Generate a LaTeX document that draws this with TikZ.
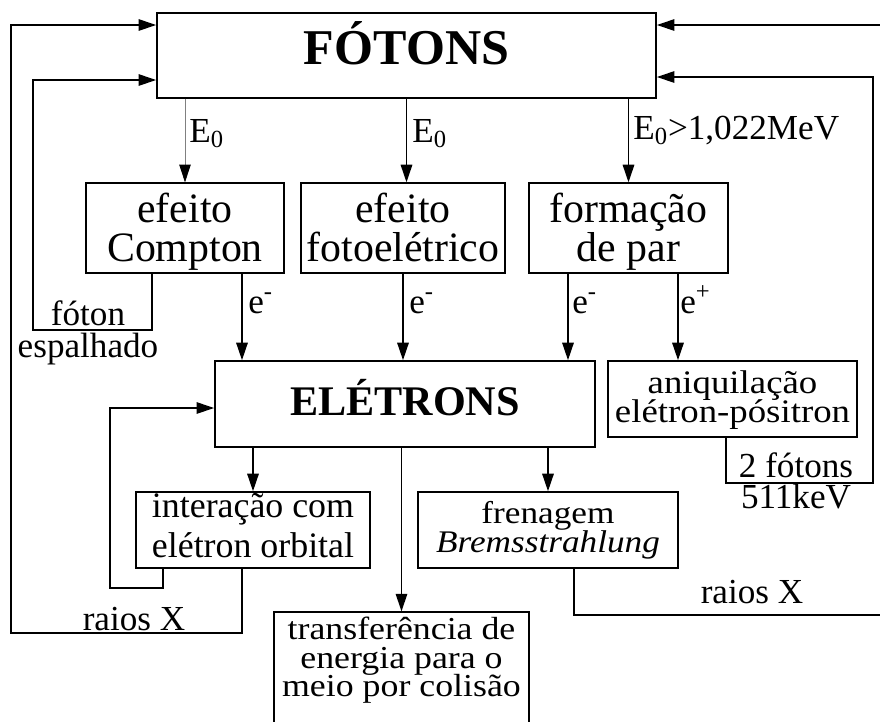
\documentclass[tikz,border=0pt]{standalone}
\usepackage{fontspec}
\setmainfont{Liberation Serif}
\newfontfamily\largafonte{Liberation Serif}[FakeStretch=1.12]
\usetikzlibrary{arrows.meta,positioning}
\lineskiplimit=-20pt

\tikzset{
  caixa/.style={draw, line width=1pt, inner sep=0pt, align=center},
  rotulo/.style={inner sep=0pt, font=\fontsize{20}{18}\selectfont},
  seta/.style={line width=1pt, -{Triangle[length=10pt,width=6.5pt]}},
}

\begin{document}
\begin{tikzpicture}
\useasboundingbox (0,0) rectangle (17.6,-14.42);
% caixas
\node[caixa, minimum width=9.98cm, text height=29.5pt, text depth=18.7pt, font=\fontsize{28.5}{28.5}\selectfont\bfseries] (fotons) at (8.13,-1.11) {FÓTONS};
\node[caixa, minimum width=3.96cm, text height=44.8pt, text depth=6.2pt, font=\fontsize{23.8}{22.7}\selectfont] (compton) at (3.70,-4.56) {efeito\\Compton};
\node[caixa, minimum width=4.08cm, text height=44.8pt, text depth=6.2pt, font=\fontsize{23.8}{22.7}\selectfont] (fotoel) at (8.06,-4.56) {efeito\\fotoelétrico};
\node[caixa, minimum width=3.98cm, text height=44.8pt, text depth=6.2pt, font=\fontsize{23.8}{22.7}\selectfont] (par) at (12.57,-4.56) {formação\\de par};
\node[caixa, minimum width=7.60cm, text height=31.2pt, text depth=17.6pt, font=\fontsize{24}{24}\selectfont\bfseries] (eletrons) at (8.10,-8.08) {ELÉTRONS};
\node[caixa, minimum width=4.98cm, text height=35.2pt, text depth=7.9pt, font=\largafonte\fontsize{18.7}{17}\selectfont] (aniq) at (14.65,-7.98) {aniquilação\\elétron-pósitron};
\node[caixa, minimum width=4.68cm, text height=37.4pt, text depth=5.7pt, font=\fontsize{20.4}{23}\selectfont] (interacao) at (5.06,-10.60) {interação com\\elétron orbital};
\node[caixa, minimum width=5.20cm, text height=34.6pt, text depth=8.5pt, font=\largafonte\fontsize{17.9}{17}\selectfont] (frenagem) at (10.96,-10.60) {frenagem\\\textit{Bremsstrahlung}};
\node[caixa, minimum width=5.10cm, text height=48.2pt, text depth=19.8pt, font=\largafonte\fontsize{18.2}{16.3}\selectfont] (transf) at (8.03,-13.44) {transferência de\\energia para o\\meio por colisão};

% setas verticais
\draw[seta, line width=0.4pt, gray, -{Triangle[length=10pt,width=6.5pt,color=black]}] (fotons.south -| compton.north) -- (compton.north);
\draw[seta] (fotons.south) -- (fotons.south |- fotoel.north);
\draw[seta] (fotons.south -| par.north) -- (par.north);
\draw[seta] ([xshift=1.14cm]compton.south) coordinate (ce) -- (ce |- eletrons.north);
\draw[seta] (fotoel.south) -- (fotoel.south |- eletrons.north);
\draw[seta] ([xshift=-1.21cm]par.south) coordinate (pe) -- (pe |- eletrons.north);
\draw[seta] ([xshift=0.99cm]par.south) coordinate (pp) -- (pp |- aniq.north);
\draw[seta] (eletrons.south -| interacao.north) -- (interacao.north);
\draw[seta] (eletrons.south -| transf.north) -- (transf.north);
\draw[seta] (eletrons.south -| frenagem.north) -- (frenagem.north);

% lacos de volta
\coordinate (espalha) at (0.66,-6.60);
\coordinate (raiosesq) at (0.22,-12.66);
\coordinate (volta) at (2.20,-11.76);
\coordinate (raiosdir) at (17.66,-12.30);
\coordinate (pares) at (17.46,-9.66);
\draw[seta] ([xshift=-0.66cm]compton.south) |- (espalha) |- ([yshift=-0.49cm]fotons.west);
\draw[seta] ([xshift=-0.22cm]interacao.south) |- (raiosesq) |- ([yshift=0.61cm]fotons.west);
\draw[seta] ([xshift=-1.80cm]interacao.south) |- (volta) |- ([yshift=-0.08cm]eletrons.west);
\draw[seta] ([xshift=0.52cm]frenagem.south) |- (raiosdir) |- ([yshift=0.61cm]fotons.east);
\draw[seta] ([xshift=-0.13cm]aniq.south) |- (pares) |- ([yshift=-0.43cm]fotons.east);

% rotulos
\node[rotulo, anchor=base west] (e0a) at (3.78,-2.84) {E\textsubscript{0}};
\node[rotulo, anchor=base west] (e0b) at (8.24,-2.84) {E\textsubscript{0}};
\node[rotulo, anchor=base west] (e0c) at (12.66,-2.78) {E\textsubscript{0}>1,022MeV};
\node[rotulo, anchor=base west] (em1) at (4.96,-6.26) {e\textsuperscript{-}};
\node[rotulo, anchor=base west] (em2) at (8.18,-6.26) {e\textsuperscript{-}};
\node[rotulo, anchor=base west] (em3) at (11.44,-6.26) {e\textsuperscript{-}};
\node[rotulo, anchor=base west] (ep) at (13.60,-6.26) {e\textsuperscript{+}};
\node[rotulo, align=center, anchor=base] (espalhado) at (1.76,-7.14) {fóton\\espalhado};
\node[rotulo, anchor=base] (rxesq) at (2.68,-12.60) {raios X};
\node[rotulo, anchor=base] (rxdir) at (15.04,-12.06) {raios X};
\node[rotulo, align=center, anchor=base, font=\fontsize{20}{17.6}\selectfont] (doisf) at (15.92,-10.16) {2 fótons\\511keV};
\end{tikzpicture}
\end{document}
